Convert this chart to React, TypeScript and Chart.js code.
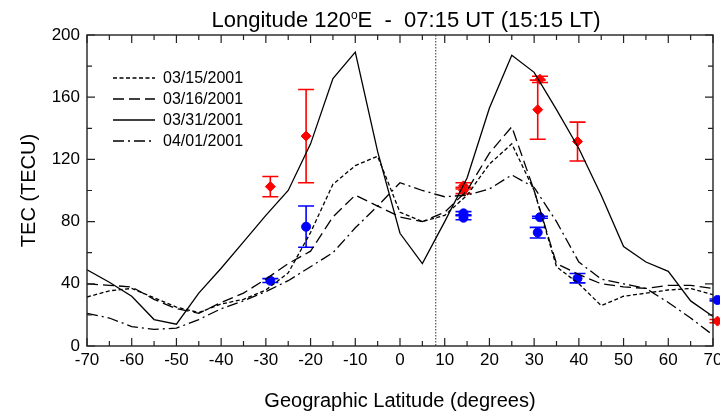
import React, { useEffect, useRef } from "react";
import { Chart, registerables } from "chart.js";

Chart.register(...registerables);

const FONT = "'Liberation Sans', Arial, sans-serif";

const chartTitleMain = "Longitude 120";
const chartTitleSup = "o";
const chartTitleRest = "E  -  07:15 UT (15:15 LT)";
const xAxisTitle = "Geographic Latitude (degrees)";
const yAxisTitle = "TEC (TECU)";

const latitudes = [-70, -65, -60, -55, -50, -45, -40, -35, -30, -25, -20, -15, -10, -5, 0, 5, 10, 15, 20, 25, 30, 35, 40, 45, 50, 55, 60, 65, 70];
const tec0315 = [31.5, 35.5, 37, 31, 25, 21.5, 27, 30, 36, 47, 73, 104, 116, 122, 86, 80, 84, 97, 117, 130, 100, 51, 40, 26, 32, 34, 36, 37, 33];
const tec0316 = [40, 39, 38, 30, 24, 21, 28, 34, 43, 53, 61, 83, 97, 90, 83, 80, 86, 100, 124, 141, 100, 53, 46, 40, 38, 37, 39, 39, 37];
const tec0331 = [49, 41, 32, 17, 14, 34, 50, 67, 84, 100, 130, 172, 189, 125, 72.5, 53, 80, 108, 153, 187, 176, 152, 127, 97, 64, 54, 48, 29, 19];
const tec0401 = [21, 18, 12.5, 10.7, 11.5, 17, 24, 29, 35, 42, 51, 60, 76, 90, 105, 100, 96, 97, 101, 110, 102, 80, 54, 43, 40, 37, 28, 18, 7];

const seriesLabels = ["03/15/2001", "03/16/2001", "03/31/2001", "04/01/2001"];

// Observations (red diamonds) with error bars
const redLat = [-29, -21, 14.2, 14.2, 30.8, 31.3, 39.7, 71];
const redTec = [102.5, 135, 103, 100, 152, 171.5, 131.5, 16];
const redLow = [96, 105, 101, 98, 133, 169.5, 119, 15];
const redHigh = [109, 165, 105, 102, 171, 173.5, 144, 17];

// Observations (blue circles) with error bars
const blueLat = [-29, -21, 14.2, 14.2, 30.8, 31.3, 39.7, 71];
const blueTec = [42, 76.7, 85.3, 82.5, 73, 82.8, 43.5, 29.6];
const blueLow = [40.8, 63.5, 84.3, 81.2, 69.5, 82.2, 40.6, 29];
const blueHigh = [43.3, 90, 86.4, 83.8, 76.3, 83.4, 46.6, 30.2];

const xMajorTicks = [-70, -60, -50, -40, -30, -20, -10, 0, 10, 20, 30, 40, 50, 60, 70];
const xMinorTicks = [-65, -55, -45, -35, -25, -15, -5, 5, 15, 25, 35, 45, 55, 65];
const yMajorTicks = [0, 40, 80, 120, 160, 200];
const yMinorTicks = [20, 60, 100, 140, 180];
const equatorLat = 8;

const dashes = [[4, 2.5], [11, 5], [], [11, 4, 2, 4]];

const errorSets: Record<number, { lat: number[]; low: number[]; high: number[]; color: string }> = {};

const decorPlugin = {
  id: "decor",
  beforeDatasetsDraw(chart: any) {
    const { ctx, chartArea: a, scales } = chart;
    const ex = scales.x.getPixelForValue(equatorLat);
    ctx.save();
    ctx.strokeStyle = "#333";
    ctx.lineWidth = 1;
    ctx.setLineDash([1.5, 1.5]);
    ctx.beginPath();
    ctx.moveTo(ex, a.top);
    ctx.lineTo(ex, a.bottom);
    ctx.stroke();
    ctx.restore();
  },
  beforeDatasetDraw(chart: any, args: any) {
    const set = errorSets[args.index];
    if (!set) return;
    const { ctx, scales } = chart;
    ctx.save();
    ctx.strokeStyle = set.color;
    ctx.lineWidth = 1.6;
    ctx.setLineDash([]);
    for (let i = 0; i < set.lat.length; i++) {
      const px = scales.x.getPixelForValue(set.lat[i]);
      const y1 = scales.y.getPixelForValue(set.low[i]);
      const y2 = scales.y.getPixelForValue(set.high[i]);
      ctx.beginPath();
      ctx.moveTo(px, y1);
      ctx.lineTo(px, y2);
      ctx.moveTo(px - 8, y1);
      ctx.lineTo(px + 8, y1);
      ctx.moveTo(px - 8, y2);
      ctx.lineTo(px + 8, y2);
      ctx.stroke();
    }
    ctx.restore();
  },
  afterDatasetsDraw(chart: any) {
    const { ctx, chartArea: a, scales } = chart;
    ctx.save();
    ctx.strokeStyle = "#222";
    ctx.lineWidth = 1.4;
    ctx.setLineDash([]);
    ctx.strokeRect(a.left, a.top, a.right - a.left, a.bottom - a.top);
    ctx.lineWidth = 1.2;
    ctx.beginPath();
    const xt = (v: number, len: number) => {
      const px = scales.x.getPixelForValue(v);
      ctx.moveTo(px, a.bottom);
      ctx.lineTo(px, a.bottom - len);
      ctx.moveTo(px, a.top);
      ctx.lineTo(px, a.top + len);
    };
    const yt = (v: number, len: number) => {
      const py = scales.y.getPixelForValue(v);
      ctx.moveTo(a.left, py);
      ctx.lineTo(a.left + len, py);
      ctx.moveTo(a.right, py);
      ctx.lineTo(a.right - len, py);
    };
    xMajorTicks.forEach((v) => xt(v, 8));
    xMinorTicks.forEach((v) => xt(v, 5));
    yMajorTicks.forEach((v) => yt(v, 8));
    yMinorTicks.forEach((v) => yt(v, 5));
    ctx.stroke();
    ctx.restore();
  },
  afterDraw(chart: any) {
    const { ctx } = chart;
    ctx.save();
    // Title with superscript
    ctx.fillStyle = "#000";
    ctx.textBaseline = "alphabetic";
    const big = `22px ${FONT}`;
    const small = `12px ${FONT}`;
    ctx.font = big;
    const w1 = ctx.measureText(chartTitleMain).width;
    const w3 = ctx.measureText(chartTitleRest).width;
    ctx.font = small;
    const w2 = ctx.measureText(chartTitleSup).width;
    const total = w1 + w2 + w3;
    let x0 = 406 - total / 2;
    const base = 27;
    ctx.textAlign = "left";
    ctx.font = big;
    ctx.fillText(chartTitleMain, x0, base);
    x0 += w1;
    ctx.font = small;
    ctx.fillText(chartTitleSup, x0, base - 8);
    x0 += w2;
    ctx.font = big;
    ctx.fillText(chartTitleRest, x0, base);

    // Legend
    const rows = [78, 99, 120, 141];
    ctx.font = `16px ${FONT}`;
    ctx.textBaseline = "middle";
    chart.data.datasets.slice(0, 4).forEach((ds: any, i: number) => {
      ctx.strokeStyle = "#000";
      ctx.lineWidth = 1.3;
      ctx.setLineDash(ds.borderDash || []);
      ctx.beginPath();
      ctx.moveTo(113, rows[i]);
      ctx.lineTo(155, rows[i]);
      ctx.stroke();
      ctx.setLineDash([]);
      ctx.fillText(ds.label, 163, rows[i] + 1);
    });
    ctx.restore();
  },
};

export default function App() {
  const ref = useRef<HTMLCanvasElement | null>(null);

  useEffect(() => {
    if (!ref.current) return;
    const lineSets = [tec0315, tec0316, tec0331, tec0401].map((vals, i) => ({
      type: "line" as const,
      label: seriesLabels[i],
      data: latitudes.map((lat, j) => ({ x: lat, y: vals[j] })),
      borderColor: "#000",
      borderWidth: 1.3,
      borderDash: dashes[i],
      pointRadius: 0,
      tension: 0,
      fill: false,
    }));
    const redSet = {
      type: "scatter" as const,
      label: "red obs",
      data: redLat.map((lat, j) => ({ x: lat, y: redTec[j] })),
      pointStyle: "rectRot",
      pointRadius: 5,
      backgroundColor: "#ff0000",
      borderColor: "#ff0000",
      showLine: false,
      clip: false,
    };
    const blueSet = {
      type: "scatter" as const,
      label: "blue obs",
      data: blueLat.map((lat, j) => ({ x: lat, y: blueTec[j] })),
      pointStyle: "circle",
      pointRadius: 4.5,
      backgroundColor: "#0000ff",
      borderColor: "#0000ff",
      showLine: false,
      clip: false,
    };
    errorSets[4] = { lat: redLat, low: redLow, high: redHigh, color: "#ff0000" };
    errorSets[5] = { lat: blueLat, low: blueLow, high: blueHigh, color: "#0000ff" };

    const chart = new Chart(ref.current, {
      type: "line",
      data: { datasets: [...lineSets, redSet, blueSet] as any },
      options: {
        animation: false,
        responsive: false,
        maintainAspectRatio: false,
        layout: { padding: { top: 35, right: 7, left: 0, bottom: 0 } },
        plugins: { legend: { display: false }, tooltip: { enabled: false }, title: { display: false } },
        scales: {
          x: {
            type: "linear",
            min: -70,
            max: 70,
            grid: { display: false, drawTicks: false },
            border: { display: false },
            ticks: {
              stepSize: 10,
              autoSkip: false,
              maxRotation: 0,
              padding: 4,
              color: "#000",
              font: { size: 17, family: FONT },
            },
            title: {
              display: true,
              text: xAxisTitle,
              color: "#000",
              font: { size: 20, family: FONT },
              padding: { top: 0, bottom: 2 },
            },
            afterFit: (s: any) => {
              s.height = 69;
              s.paddingLeft = 0;
              s.paddingRight = 0;
            },
          },
          y: {
            min: 0,
            max: 200,
            grid: { display: false, drawTicks: false },
            border: { display: false },
            ticks: {
              stepSize: 40,
              padding: 7,
              color: "#000",
              font: { size: 17, family: FONT },
            },
            title: {
              display: true,
              text: yAxisTitle,
              color: "#000",
              font: { size: 20, family: FONT },
              padding: { top: 17, bottom: 0 },
            },
            afterFit: (s: any) => {
              s.width = 87;
              s.paddingTop = 0;
              s.paddingBottom = 0;
            },
          },
        },
      },
      plugins: [decorPlugin],
    });
    return () => chart.destroy();
  }, []);

  return (
    <div style={{ position: "fixed", left: 0, top: 0, width: 720, height: 415, background: "#fff" }}>
      <canvas ref={ref} width={720} height={415} style={{ display: "block", width: 720, height: 415 }} />
    </div>
  );
}
